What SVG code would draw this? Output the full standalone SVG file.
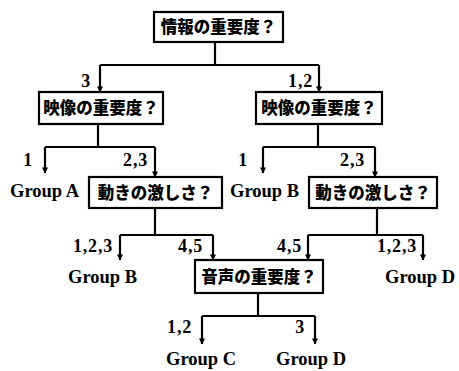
<svg xmlns="http://www.w3.org/2000/svg" width="459" height="371" viewBox="0 0 459 371">
<style>
.box{fill:#fff;stroke:#000;stroke-width:2.2}
.jp{font-family:"Noto Sans CJK JP","Noto Sans CJK SC",sans-serif;font-weight:900;font-size:16.5px;text-anchor:middle;fill:#000}
.num{font-family:"Liberation Serif",serif;font-weight:bold;font-size:18px;letter-spacing:0.8px;text-anchor:end;fill:#000}
.grp{font-family:"Liberation Serif",serif;font-weight:bold;font-size:18.5px;fill:#000}
.ln{fill:none;stroke:#000;stroke-width:2.2}
.ar{fill:none;stroke:#000;stroke-width:2.2;marker-end:url(#ah)}
</style>
<defs>
<marker id="ah" viewBox="0 0 10 10" refX="9" refY="5" markerWidth="10" markerHeight="6" markerUnits="userSpaceOnUse" orient="auto">
<path d="M0,0 L10,5 L0,10 z" fill="#000"/>
</marker>
</defs>
<rect width="459" height="371" fill="#fff"/>
<g id="connectors">
<path class="ln" d="M215,42 V65 M100,65 H319"/>
<path class="ar" d="M100,65 V92"/>
<path class="ar" d="M319,65 V92"/>
<path class="ln" d="M98,124 V147 M45,147 H155"/>
<path class="ar" d="M45,147 V173"/>
<path class="ar" d="M155,147 V177"/>
<path class="ln" d="M318,124 V147 M263,147 H375"/>
<path class="ar" d="M263,147 V173"/>
<path class="ar" d="M375,147 V177"/>
<path class="ln" d="M155,208 V235 M120,235 H213"/>
<path class="ar" d="M120,235 V260"/>
<path class="ar" d="M213,235 V260"/>
<path class="ln" d="M377,208 V235 M308,235 H423"/>
<path class="ar" d="M308,235 V260"/>
<path class="ar" d="M423,235 V260"/>
<path class="ln" d="M258,293 V316 M202,316 H315"/>
<path class="ar" d="M202,316 V344"/>
<path class="ar" d="M315,316 V344"/>
</g>
<g id="labels">
<text class="num" x="91" y="87">3</text>
<text class="num" x="313" y="87">1,2</text>
<text class="num" x="33" y="166">1</text>
<text class="num" x="148" y="166">2,3</text>
<text class="num" x="248" y="166">1</text>
<text class="num" x="365" y="166">2,3</text>
<text class="num" x="113" y="252">1,2,3</text>
<text class="num" x="203" y="252">4,5</text>
<text class="num" x="302" y="252">4,5</text>
<text class="num" x="417" y="252">1,2,3</text>
<text class="num" x="192" y="333">1,2</text>
<text class="num" x="305" y="333">3</text>
</g>
<g id="n1"><rect class="box" x="154" y="12" width="129" height="30"/><text class="jp" x="218.5" y="33">情報の重要度？</text></g>
<g id="n2"><rect class="box" x="39" y="92" width="124" height="32"/><text class="jp" x="101" y="114">映像の重要度？</text></g>
<g id="n3"><rect class="box" x="256" y="92" width="126" height="32"/><text class="jp" x="319" y="114">映像の重要度？</text></g>
<g id="groupA"><text class="grp" x="10" y="197">Group A</text></g>
<g id="n4"><rect class="box" x="89" y="177" width="133" height="31"/><text class="jp" x="155.5" y="198.5">動きの激しさ？</text></g>
<g id="groupB1"><text class="grp" x="230" y="197">Group B</text></g>
<g id="n5"><rect class="box" x="309" y="177" width="128" height="31"/><text class="jp" x="373" y="198.5">動きの激しさ？</text></g>
<g id="groupB2"><text class="grp" x="68" y="283">Group B</text></g>
<g id="n6"><rect class="box" x="195" y="260" width="128" height="33"/><text class="jp" x="259" y="282.5">音声の重要度？</text></g>
<g id="groupD1"><text class="grp" x="385" y="283">Group D</text></g>
<g id="groupC"><text class="grp" x="166" y="365">Group C</text></g>
<g id="groupD2"><text class="grp" x="276" y="365">Group D</text></g>
</svg>
